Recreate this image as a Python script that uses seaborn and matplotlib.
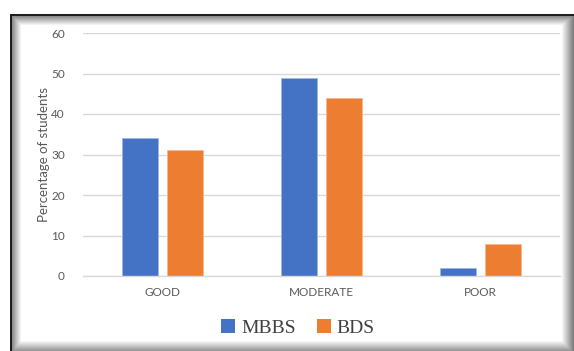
import numpy as np
import pandas as pd
import matplotlib
matplotlib.use("Agg")
import matplotlib.pyplot as plt
from matplotlib.patches import Patch
import seaborn as sns

categories = ["GOOD", "MODERATE", "POOR"]
mbbs = [34, 49, 2]
bds = [31, 44, 8]
series = ["MBBS", "BDS"]
yticks = [0, 10, 20, 30, 40, 50, 60]

df = pd.DataFrame({
    "category": categories * 2,
    "course": ["MBBS"] * 3 + ["BDS"] * 3,
    "pct": mbbs + bds,
})

sns.set_theme(style="white")
plt.rcParams["font.family"] = ["Lato", "DejaVu Sans"]

W, H = 574, 351
fig = plt.figure(figsize=(W / 100, H / 100), dpi=100)

# framed panel with a soft inset shadow
bg = fig.add_axes([0, 0, 1, 1])
yy, xx = np.mgrid[0:H, 0:W]
inside = (xx >= 10) & (yy >= 14)
shade = np.zeros((H, W))
shade = np.maximum(shade, np.clip(1 - (yy - 16) / 9.0, 0, 1) * 0.45 * (yy >= 16))
shade = np.maximum(shade, np.clip(1 - (xx - 12) / 9.0, 0, 1) * 0.45 * (xx >= 12))
shade = np.maximum(shade, np.clip((xx - 561) / 13.0, 0, 1) * 0.55)
shade = np.maximum(shade, np.clip((yy - 340) / 11.0, 0, 1) * 0.45)
img = np.where(inside, 1 - shade, 1.0)
img[14:16, 10:] = 0.12
img[14:, 10:12] = 0.12
bg.imshow(img, cmap="gray", vmin=0, vmax=1, aspect="auto", interpolation="nearest")
bg.set_axis_off()

ax = fig.add_axes([83 / W, 75 / H, 477 / W, 243 / H])
ax.patch.set_alpha(0)
palette = {"MBBS": "#4472C4", "BDS": "#ED7D31"}
edges = {"MBBS": "#9fb6e0", "BDS": "#f5b98f"}
sns.barplot(data=df, x="category", y="pct", hue="course", hue_order=series,
            order=categories, palette=palette, width=0.566, gap=0.2,
            saturation=1, ax=ax, legend=False)
for cont, s in zip(ax.containers, series):
    for bar in cont:
        bar.set_edgecolor(edges[s])
        bar.set_linewidth(0.6)

ax.set_ylim(0, 60)
ax.set_xlim(-0.5, 2.5)
ax.set_yticks(yticks)
ax.yaxis.grid(True, color="#d9d9d9", linewidth=1)
ax.set_axisbelow(True)
for s in ["top", "right", "left"]:
    ax.spines[s].set_visible(False)
ax.spines["bottom"].set_color("#d9d9d9")
ax.spines["bottom"].set_linewidth(1)
ax.tick_params(axis="both", length=0, labelsize=8.5, labelcolor="#595959")
ax.tick_params(axis="y", pad=13)
ax.tick_params(axis="x", pad=8)
ax.set_xlabel("")
ax.set_ylabel("Percentage of students", fontsize=9.5, color="#595959", labelpad=1)

handles = [Patch(facecolor=palette[s], edgecolor="none") for s in series]
fig.legend(handles, series, loc="center", bbox_to_anchor=(298 / W, 1 - 328 / H),
           ncol=2, frameon=False, handlelength=0.7, handleheight=0.7,
           handletextpad=0.3, columnspacing=1.1,
           prop={"family": "Liberation Serif", "size": 14})
for t in fig.legends[0].get_texts():
    t.set_color("#404040")

fig.savefig("out.png", dpi=100)
